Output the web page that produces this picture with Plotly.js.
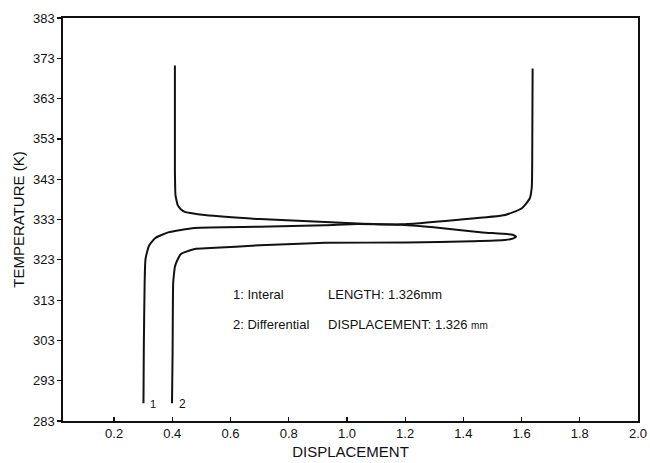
<!DOCTYPE html>
<html>
<head>
<meta charset="utf-8">
<script src="https://cdn.plot.ly/plotly-3.0.1.min.js"></script>
<style>
  html, body { margin: 0; padding: 0; background: #ffffff; }
  #chart { width: 650px; height: 463px; }
</style>
</head>
<body>
<div id="chart"></div>
<script>
// Temperature axis (K) and displacement axis ticks
const temperatureTicks = [283, 293, 303, 313, 323, 333, 343, 353, 363, 373, 383];
const displacementTicks = [0.2, 0.4, 0.6, 0.8, 1.0, 1.2, 1.4, 1.6, 1.8, 2.0];

// Curve 1: integral length — steps from ~0.30 to ~1.64 around 331 K
const interalDisp = [0.301, 0.302, 0.305, 0.308, 0.320, 0.342, 0.386, 0.477, 0.700, 0.926, 1.037, 1.186, 1.375, 1.543, 1.601, 1.628, 1.635, 1.637, 1.638];
const interalTemp = [287.4, 300.0, 317.2, 323.2, 326.5, 328.4, 329.8, 330.9, 331.2, 331.6, 331.9, 331.8, 332.9, 334.1, 335.8, 338.2, 341.0, 355.0, 370.5];

// Curve 2: differential displacement — peak to ~1.58 near 329 K, back to ~0.41
const diffDisp = [0.399, 0.401, 0.403, 0.406, 0.409, 0.416, 0.429, 0.443, 0.477, 0.531, 0.700, 0.926, 1.206, 1.432, 1.543, 1.572, 1.581, 1.569, 1.466, 1.321, 1.186, 1.037, 0.926, 0.700, 0.511, 0.463, 0.443, 0.430, 0.419, 0.413, 0.411, 0.409, 0.409];
const diffTemp = [287.4, 300.0, 317.2, 319.6, 321.3, 322.7, 324.4, 324.9, 325.7, 325.9, 326.6, 327.2, 327.3, 327.6, 327.9, 328.3, 328.7, 329.2, 329.8, 330.9, 331.7, 332.0, 332.4, 333.1, 334.1, 334.6, 334.9, 335.5, 336.5, 338.2, 339.0, 345.0, 371.2];

const curveLabels = ['1', '2'];

const font = 'Liberation Sans, Arial, sans-serif';
const ink = '#111111';

const lineStyle = { color: ink, width: 2, shape: 'spline', smoothing: 0.5 };

const traces = [
  { x: interalDisp, y: interalTemp, mode: 'lines', line: lineStyle, name: 'Interal', hoverinfo: 'skip' },
  { x: diffDisp, y: diffTemp, mode: 'lines', line: lineStyle, name: 'Differential', hoverinfo: 'skip' }
];

const annotations = [
  { x: interalDisp[0], y: interalTemp[0], text: curveLabels[0], xanchor: 'left', yanchor: 'middle', xshift: 5, yshift: -1, showarrow: false, font: { family: font, size: 11, color: ink } },
  { x: diffDisp[0], y: diffTemp[0], text: curveLabels[1], xanchor: 'left', yanchor: 'middle', xshift: 5, yshift: -1, showarrow: false, font: { family: font, size: 12, color: ink } },
  { x: 0.600, y: 314.4, text: '1: Interal', xanchor: 'left', yanchor: 'middle', showarrow: false, font: { family: font, size: 13, color: ink } },
  { x: 0.600, y: 307.0, text: '2: Differential', xanchor: 'left', yanchor: 'middle', showarrow: false, font: { family: font, size: 13, color: ink } },
  { x: 0.928, y: 314.4, text: 'LENGTH: 1.326mm', xanchor: 'left', yanchor: 'middle', showarrow: false, font: { family: font, size: 13, color: ink } },
  { x: 0.928, y: 307.0, text: 'DISPLACEMENT: 1.326 <span style="font-size:10px">mm</span>', xanchor: 'left', yanchor: 'middle', showarrow: false, font: { family: font, size: 13, color: ink } }
];

const layout = {
  width: 650,
  height: 463,
  margin: { l: 63, r: 12, t: 18, b: 42 },
  paper_bgcolor: '#ffffff',
  plot_bgcolor: '#ffffff',
  showlegend: false,
  font: { family: font, color: ink },
  xaxis: {
    range: [0.0245, 2.0],
    tickvals: displacementTicks,
    tickformat: '.1f',
    ticks: 'inside',
    ticklen: 4,
    tickwidth: 1.2,
    tickcolor: ink,
    showline: true,
    mirror: true,
    linecolor: ink,
    linewidth: 1.6,
    showgrid: false,
    zeroline: false,
    automargin: false,
    tickfont: { family: font, size: 13, color: ink },
    title: { text: 'DISPLACEMENT', font: { family: font, size: 15, color: ink }, standoff: 6 }
  },
  yaxis: {
    range: [283, 383],
    tickvals: temperatureTicks,
    ticks: 'outside',
    ticklen: 4,
    tickwidth: 1.2,
    tickcolor: ink,
    showline: true,
    mirror: true,
    linecolor: ink,
    linewidth: 1.6,
    showgrid: false,
    zeroline: false,
    automargin: false,
    tickfont: { family: font, size: 13, color: ink },
    title: { text: 'TEMPERATURE (K)', font: { family: font, size: 15, color: ink }, standoff: 5 }
  },
  annotations: annotations
};

Plotly.newPlot('chart', traces, layout, { staticPlot: true, displayModeBar: false });
</script>
</body>
</html>
